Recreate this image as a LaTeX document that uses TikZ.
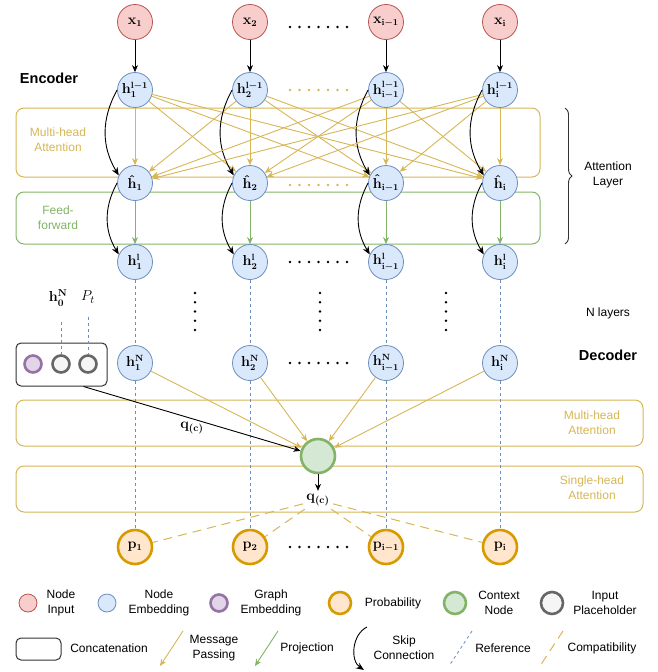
\documentclass[tikz,border=0pt]{standalone}
\usepackage{amsmath, amssymb}
\usepackage{fontspec}
\setsansfont{Liberation Sans}
\usepackage{tikz}
\usetikzlibrary{arrows.meta, positioning, calc, decorations.pathreplacing}
\usepackage{xcolor}
\definecolor{inred}{HTML}{F8CECC}
\definecolor{inredline}{HTML}{B85450}
\definecolor{embblue}{HTML}{DAE8FC}
\definecolor{embblueline}{HTML}{6C8EBF}
\definecolor{grpurple}{HTML}{E1D5E7}
\definecolor{grpurpleline}{HTML}{9673A6}
\definecolor{probfill}{HTML}{FFE6CC}
\definecolor{probline}{HTML}{D79B00}
\definecolor{ctxfill}{HTML}{D5E8D4}
\definecolor{ctxline}{HTML}{82B366}
\definecolor{phfill}{HTML}{F5F5F5}
\definecolor{phline}{HTML}{666666}
\definecolor{msggold}{HTML}{D6B656}

\begin{document}
\begin{tikzpicture}[
  x=1pt, y=-1pt,
  font=\sffamily\fontsize{12}{15}\selectfont,
  vnode/.style={circle, draw, line width=0.8pt, minimum size=35pt, inner sep=0pt, font=\fontsize{13.5}{14}\selectfont\boldmath},
  xin/.style={vnode, fill=inred, draw=inredline},
  emb/.style={vnode, fill=embblue, draw=embblueline},
  prob/.style={vnode, fill=probfill, draw=probline, line width=2.6pt, minimum size=34pt},
  ctx/.style={vnode, fill=ctxfill, draw=ctxline, line width=2.6pt, minimum size=34pt},
  grph/.style={circle, fill=grpurple, draw=grpurpleline, line width=2.6pt, minimum size=17pt, inner sep=0pt},
  phold/.style={circle, fill=phfill, draw=phline, line width=2.6pt, minimum size=17pt, inner sep=0pt},
  layerbox/.style={rectangle, rounded corners=8pt, line width=1pt, inner sep=0pt},
  concat/.style={rectangle, rounded corners=5pt, draw=black!80, line width=1pt, inner sep=0pt},
  arr/.style={-{Stealth[length=7pt, width=6pt]}, line width=0.9pt},
  msg/.style={arr, draw=msggold},
  proj/.style={arr, draw=ctxline},
  skip/.style={-{Stealth[length=8pt, width=6.5pt]}, line width=0.9pt},
  refl/.style={draw=embblueline, line width=0.8pt, dash pattern=on 3pt off 3pt},
  compat/.style={draw=msggold, line width=1pt, dash pattern=on 9pt off 6pt},
  lbl/.style={align=center},
  mathlbl/.style={font=\fontsize{14}{14}\selectfont\boldmath},
  title/.style={font=\sffamily\bfseries\fontsize{14.5}{16}\selectfont}
]
  \useasboundingbox (0,0) rectangle (657,672);

  % layer boxes
  \node[layerbox, draw=msggold, minimum width=524pt, minimum height=69pt] (mhaenc) at (278,142.5) {};
  \node[layerbox, draw=ctxline, minimum width=524pt, minimum height=52pt] (ffenc) at (278,218) {};
  \node[layerbox, draw=msggold, minimum width=627pt, minimum height=46pt] (mhadec) at (329.5,423) {};
  \node[layerbox, draw=msggold, minimum width=627pt, minimum height=46pt] (shadec) at (329.5,489) {};
  \node[lbl, text=msggold] (mhaenctxt) at (58,140) {Multi-head\\Attention};
  \node[lbl, text=ctxline] (ffenctxt) at (58,218) {Feed-\\forward};
  \node[lbl, text=msggold] (mhadectxt) at (592,423) {Multi-head\\Attention};
  \node[lbl, text=msggold] (shadectxt) at (592,488) {Single-head\\Attention};

  \node[title] (enc) at (49,78) {Encoder};
  \node[title] (dec) at (608,355) {Decoder};
  \node[lbl] (attlayer) at (608,175) {Attention\\Layer};
  \node[lbl] (nlayers) at (608,313) {N layers};
  \draw[black!80, line width=0.9pt, decorate, decoration={brace, amplitude=7pt}] (565,108) -- (565,244);

  % columns
  \foreach \c/\x/\s in {1/135/1, 2/250/2, 3/386/i-1, 4/500/i}{
    \node[xin] (xin\c) at (\x,22) {$\mathbf{x_{\s}}$};
    \node[emb] (hprev\c) at (\x,90) {$\mathbf{h_{\s}^{l-1}}$};
    \node[emb] (hhat\c) at (\x,183) {$\mathbf{\hat{h}_{\s}}$};
    \node[emb] (hcur\c) at (\x,262) {$\mathbf{h_{\s}^{l}}$};
    \node[emb] (hlast\c) at (\x,363) {$\mathbf{h_{\s}^{N}}$};
    \node[prob] (prob\c) at (\x,547) {$\mathbf{p_{\s}}$};
  }

  \foreach \y/\col in {27/black, 90/msggold, 185/msggold, 262/black, 363/black, 547/black}
    \foreach \k in {0,...,6} \fill[\col] (290+9.5*\k,\y) circle (1.3pt);
  \foreach \x in {195,320,446}
    \foreach \k in {0,...,4} \fill (\x,293+9.25*\k) circle (1.3pt);

  % decoder inputs
  \node[concat, minimum width=91pt, minimum height=43pt] (cat) at (61.5,364.5) {};
  \node[grph] (gemb) at (33,364) {};
  \node[phold] (ph1) at (61,364) {};
  \node[phold] (ph2) at (88,364) {};
  \node[mathlbl] (h0lbl) at (58,298) {$\mathbf{h_0^N}$};
  \node[font=\fontsize{15}{15}\selectfont] (ptlbl) at (88,297) {$P_t$};
  \draw[refl, shorten <=12pt] (ph1 |- h0lbl.south) -- (ph1);
  \draw[refl, shorten <=10pt] (ph2 |- ptlbl.south) -- (ph2);

  \node[ctx] (ctx) at (318,456) {};
  \node[mathlbl] (qc) at (318,500) {$\mathbf{q_{(c)}}$};

  \foreach \c in {1,...,4}{
    \draw[arr] (xin\c) -- (hprev\c);
    \foreach \k in {1,...,4} \draw[msg] (hprev\c) -- (hhat\k);
    \draw[proj] (hhat\c) -- (hcur\c);
    \draw[skip] (hprev\c.west) to[bend right=30] (hhat\c.155);
    \draw[skip] (hhat\c.west) to[bend right=30] (hcur\c.155);
    \draw[refl] (hcur\c) -- (hlast\c);
    \draw[refl] (hlast\c) -- (prob\c);
    \draw[msg] (hlast\c) -- (ctx);
    \draw[compat] (qc) -- (prob\c);
  }
  \draw[arr] (cat.-45) -- node[mathlbl, below, pos=0.5] {$\mathbf{q_{(c)}}$} (ctx);
  \draw[arr] (ctx) -- (qc);

  % legend
  \node[xin, minimum size=18pt] (lgin) at (28,603) {};
  \node[lbl] (lgintxt) at (61,603) {Node\\Input};
  \node[emb, minimum size=18pt] (lgemb) at (107,603) {};
  \node[lbl] (lgembtxt) at (159,603) {Node\\Embedding};
  \node[grph] (lggr) at (219,603) {};
  \node[lbl] (lggrtxt) at (271,603) {Graph\\Embedding};
  \node[prob, minimum size=22pt] (lgprob) at (340,603) {};
  \node[lbl] (lgprobtxt) at (393,603) {Probability};
  \node[ctx, minimum size=22pt] (lgctx) at (455,603) {};
  \node[lbl] (lgctxtxt) at (499,603) {Context\\Node};
  \node[phold, minimum size=22pt] (lgph) at (552,603) {};
  \node[lbl] (lgphtxt) at (605,603) {Input\\Placeholder};

  \node[concat, minimum width=45pt, minimum height=22pt] (lgcat) at (38.5,649) {};
  \node[lbl] (lgcattxt) at (109,648) {Concatenation};
  \foreach \nm/\x/\sty in {msg/183/msg, proj/278/proj, refl/472/refl, compat/563/compat}{
    \coordinate (lg\nm a) at (\x,631);
    \coordinate (lg\nm b) at (\x-23,666);
    \draw[\sty] (lg\nm a) -- (lg\nm b);
  }
  \node[lbl] (lgmsgtxt) at (214,648) {Message\\Passing};
  \node[lbl] (lgprojtxt) at (307,648) {Projection};
  \coordinate (lgskipa) at (367,627);
  \coordinate (lgskipb) at (364,670);
  \draw[skip] (lgskipa) to[bend right=60] (lgskipb);
  \node[lbl] (lgskiptxt) at (404,648) {Skip\\Connection};
  \node[lbl] (lgrefltxt) at (503,648) {Reference};
  \node[lbl] (lgcompattxt) at (602,648) {Compatibility};
\end{tikzpicture}
\end{document}
